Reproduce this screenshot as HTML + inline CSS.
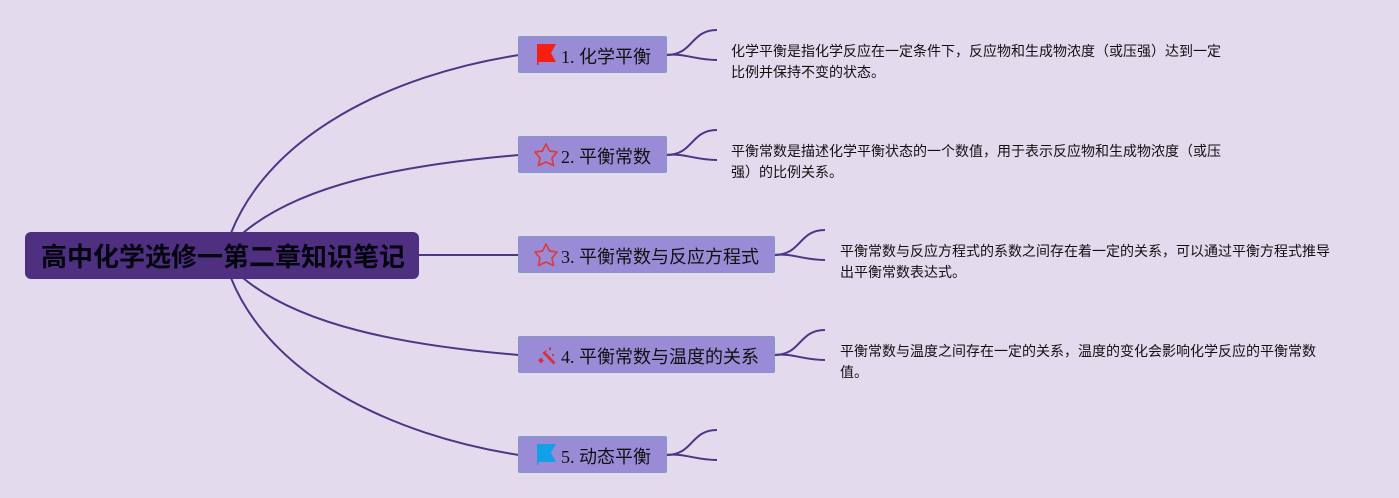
<!DOCTYPE html>
<html lang="zh">
<head>
<meta charset="utf-8">
<style>
html,body{margin:0;padding:0;width:1399px;height:498px;overflow:hidden;background:#e4daee}
.n{position:absolute;box-sizing:border-box;height:37px;background:#9a8bd6;border:1.5px solid #7d9abf;border-radius:2px}
.t{position:absolute;white-space:nowrap;font:18px/24px "Liberation Serif","WenQuanYi Zen Hei","Noto Sans CJK SC",serif;color:#111;top:45px}
.d{position:absolute;white-space:nowrap;font:14px/21px "Liberation Sans","WenQuanYi Zen Hei","Noto Sans CJK SC",sans-serif;color:#111}
#root{position:absolute;left:25px;top:232px;width:394px;height:47px;background:#4e2f80;border-radius:6px}
#rt{position:absolute;left:41px;top:240px;white-space:nowrap;font:bold 26px/34px "Liberation Sans","Noto Sans CJK SC",sans-serif;color:#05050f}
svg{position:absolute;left:0;top:0}
</style>
</head>
<body>
<svg width="1399" height="498" fill="none" stroke="#4e3585" stroke-width="2">
<path d="M231 233C270 135 390 75 519 55"/>
<path d="M243 233C300 185 400 165 519 155"/>
<path d="M419 255H519"/>
<path d="M243 278C300 325 400 345 519 355"/>
<path d="M231 278C270 375 390 435 519 455"/>
<path d="M666 55C694 55 690 30 717 30"/><path d="M666 55C685 53 695 60 717 60"/>
<path d="M666 155C694 155 690 130 717 130"/><path d="M666 155C685 153 695 160 717 160"/>
<path d="M774 255C802 255 798 230 825 230"/><path d="M774 255C793 253 803 260 825 260"/>
<path d="M774 355C802 355 798 330 825 330"/><path d="M774 355C793 353 803 360 825 360"/>
<path d="M666 455C694 455 690 430 717 430"/><path d="M666 455C685 453 695 460 717 460"/>
</svg>
<div id="root"></div><div id="rt">高中化学选修一第二章知识笔记</div>
<div class="n" style="left:518px;top:36px;width:149px"></div>
<div class="n" style="left:518px;top:136px;width:149px"></div>
<div class="n" style="left:518px;top:236px;width:257px"></div>
<div class="n" style="left:518px;top:336px;width:257px"></div>
<div class="n" style="left:518px;top:436px;width:149px"></div>
<svg width="1399" height="498">
<path d="M537 44H556L551 53L556 62H538.500V65H537Z" fill="#f5200f"/>
<path d="M537 444H556L551 453L556 462H538.500V465H537Z" fill="#14a0e6"/>
<g fill="none" stroke="#dd3a3e" stroke-width="1.700" stroke-linejoin="round">
<path d="M546 144L549.500 151L557 152L552 158L553.500 165.500L546 162L538.500 165.500L540 158L535 152L542.500 151Z"/>
<path d="M546 244L549.500 251L557 252L552 258L553.500 265.500L546 262L538.500 265.500L540 258L535 252L542.500 251Z"/>
</g>
<g fill="#d1323c"><path d="M544.500 351L555.500 362.500L553.500 364.500L542.500 353Z"/><path d="M541 357.500L543.800 360.500L541 363.500L538 360.500Z"/><path d="M550 346.500L551.300 348.700L550 351L548.700 348.700Z"/><circle cx="553" cy="355" r="1.100"/><circle cx="546" cy="351" r="0.800"/></g>
</svg>
<div class="t" style="left:561px">1. 化学平衡</div>
<div class="t" style="left:561px;top:145px">2. 平衡常数</div>
<div class="t" style="left:561px;top:245px">3. 平衡常数与反应方程式</div>
<div class="t" style="left:561px;top:345px">4. 平衡常数与温度的关系</div>
<div class="t" style="left:561px;top:445px">5. 动态平衡</div>
<div class="d" style="left:731px;top:41px">化学平衡是指化学反应在一定条件下，反应物和生成物浓度（或压强）达到一定<br>比例并保持不变的状态。</div>
<div class="d" style="left:731px;top:141px">平衡常数是描述化学平衡状态的一个数值，用于表示反应物和生成物浓度（或压<br>强）的比例关系。</div>
<div class="d" style="left:840px;top:241px">平衡常数与反应方程式的系数之间存在着一定的关系，可以通过平衡方程式推导<br>出平衡常数表达式。</div>
<div class="d" style="left:840px;top:341px">平衡常数与温度之间存在一定的关系，温度的变化会影响化学反应的平衡常数<br>值。</div>
</body>
</html>
